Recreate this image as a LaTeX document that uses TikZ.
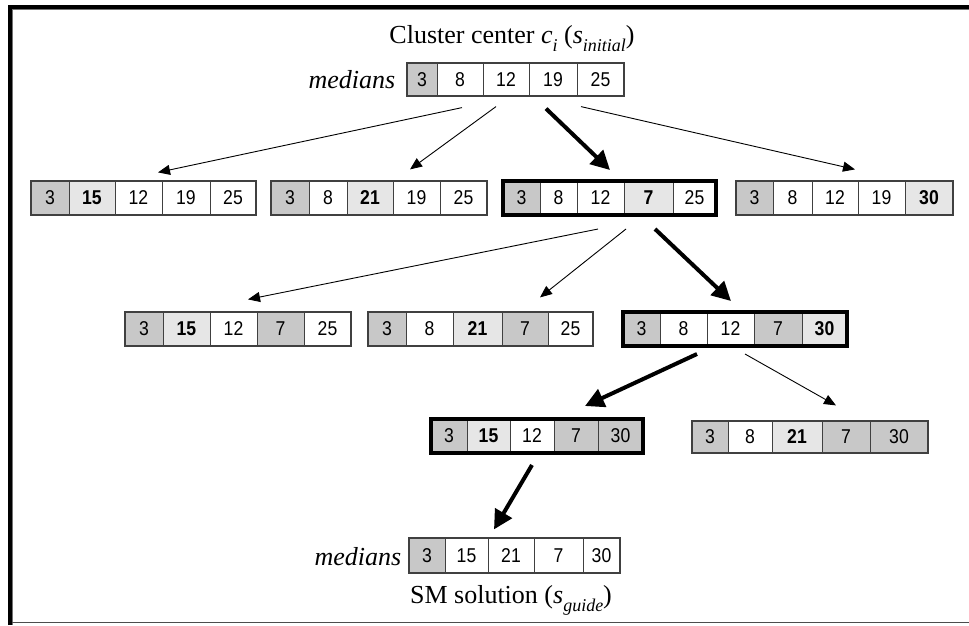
\documentclass[tikz,border=0pt]{standalone}
\usepackage{fontspec}
\setmainfont{Liberation Serif}
\newfontfamily\numfont[FakeStretch=0.88]{Liberation Sans}
\usetikzlibrary{arrows.meta,calc}
\definecolor{celldark}{HTML}{C8C8C8}
\definecolor{celllight}{HTML}{E6E6E6}
\tikzset{
  cdk/.style={fill=celldark}, clt/.style={fill=celllight}, cwt/.style={fill=white},
  tdk/.style={}, twt/.style={},
  tlt/.style={font=\numfont\bfseries\fontsize{20}{24}\selectfont},
  celltext/.style={font=\numfont\fontsize{20}{24}\selectfont, inner sep=0pt, text=black},
  divider/.style={draw=black!75, line width=1pt},
  boxframe/.style={draw=black!75, line width=1.2pt, inner sep=0pt},
  boldframe/.style={draw=black, line width=4pt, inner sep=0pt},
  thinarrow/.style={draw=black, line width=0.9pt, -{Triangle[length=12pt,width=10pt]}},
  thickarrow/.style={draw=black, line width=4pt, -{Triangle[length=19pt,width=19pt]}},
  lbl/.style={inner sep=0pt, anchor=base, font=\fontsize{26}{31}\selectfont},
}
\newcommand\sbs[1]{\raisebox{-0.32em}{\fontsize{18}{18}\selectfont\textit{#1}}}
% #1 frame style, #2 name, #3 left, #4 right, #5 top, #6 bottom, #7 cells
\newcommand\cellbox[7][boxframe]{%
  \foreach \xl/\xr/\val/\fc in {#7} {
    \path[c\fc] (\xl,#5) rectangle (\xr,#6);
    \node[celltext, t\fc] at ({(\xl+\xr)/2},{(#5+#6)/2}) {\val};
    \draw[divider] (\xl,#5) -- (\xl,#6);
  }
  \node[#1, minimum width={#4-#3}, minimum height={#6-#5}] (#2) at ({(#3+#4)/2},{(#5+#6)/2}) {};
}
\begin{document}
\begin{tikzpicture}[x=1pt,y=-1pt]
\useasboundingbox (0,0) rectangle (969,625);
\fill[white] (0,0) rectangle (969,625);
% frame
\draw[black!55, line width=1pt] (12.5,625) -- (12.5,9.5) -- (969,9.5);
\draw[black, line width=4pt] (10,625) -- (10,7) -- (969,7);
\draw[black!70, line width=1.5pt] (12,622.5) -- (969,622.5);

% labels
\node[lbl] (title) at (512,43) {Cluster center \textit{c}\sbs{i} (\textit{s}\sbs{initial})};
\node[lbl] (sm) at (511,603) {SM solution (\textit{s}\sbs{guide})};
\node[lbl] (med1) at (352,88) {\textit{medians}};
\node[lbl] (med2) at (358,565) {\textit{medians}};

% boxes
\cellbox{top}{407}{624}{63}{96}{407/437/3/dk, 437/483/8/wt, 483/529/12/wt, 529/577/19/wt, 577/624/25/wt}

\cellbox{r2a}{31}{256}{181}{215}{31/69/3/dk, 69/115/15/lt, 115/162/12/wt, 162/210/19/wt, 210/256/25/wt}
\cellbox{r2b}{271}{487}{181}{215}{271/309/3/dk, 309/347/8/wt, 347/393/21/lt, 393/440/19/wt, 440/487/25/wt}
\cellbox[boldframe]{r2c}{503}{716}{181}{215}{503/540/3/dk, 540/577/8/wt, 577/624/12/wt, 624/673/7/lt, 673/716/25/wt}
\cellbox{r2d}{736}{953}{181}{215}{736/773/3/dk, 773/812/8/wt, 812/858/12/wt, 858/905/19/wt, 905/953/30/lt}

\cellbox{r3a}{125}{351}{312}{346}{125/163/3/dk, 163/210/15/lt, 210/257/12/wt, 257/304/7/dk, 304/351/25/wt}
\cellbox{r3b}{368}{593}{312}{346}{368/406/3/dk, 406/453/8/wt, 453/502/21/lt, 502/548/7/dk, 548/593/25/wt}
\cellbox[boldframe]{r3c}{623}{847}{312}{346}{623/660/3/dk, 660/707/8/wt, 707/754/12/wt, 754/802/7/dk, 802/847/30/lt}

\cellbox[boldframe]{r4a}{431}{643}{419}{453}{431/467/3/dk, 467/510/15/lt, 510/554/12/wt, 554/598/7/dk, 598/643/30/dk}
\cellbox{r4b}{692}{928}{421}{453}{692/728/3/dk, 728/772/8/wt, 772/822/21/lt, 822/870/7/dk, 870/928/30/dk}

\cellbox{bot}{409}{620}{538}{573}{409/445/3/dk, 445/488/15/wt, 488/534/21/wt, 534/583/7/wt, 583/620/30/wt}

% arrows from top
\draw[thinarrow] ([shift={(-53.5,11)}]top.south) -- ([shift={(14.5,-8)}]r2a.north);
\draw[thinarrow] ([shift={(-19.5,10)}]top.south) -- ([shift={(31,-11)}]r2b.north);
\draw[thickarrow] ([shift={(30.5,12)}]top.south) -- ([shift={(0.5,-9)}]r2c.north);
\draw[thinarrow] ([shift={(65.5,10)}]top.south) -- ([shift={(10.5,-11)}]r2d.north);
% arrows from r2c
\draw[thinarrow] ([shift={(-11.5,12)}]r2c.south) -- ([shift={(10,-12)}]r3a.north);
\draw[thinarrow] ([shift={(16.5,12)}]r2c.south) -- ([shift={(59.5,-14)}]r3b.north);
\draw[thickarrow] ([shift={(45.5,12)}]r2c.south) -- ([shift={(-4,-9)}]r3c.north);
% arrows from r3c
\draw[thickarrow] ([shift={(-38,6)}]r3c.south) -- ([shift={(48,-11)}]r4a.north);
\draw[thinarrow] ([shift={(10,6)}]r3c.south) -- ([shift={(26,-15)}]r4b.north);
% arrow from r4a
\draw[thickarrow] ([shift={(-5,10)}]r4a.south) -- ([shift={(-20.5,-8)}]bot.north);
\end{tikzpicture}
\end{document}
